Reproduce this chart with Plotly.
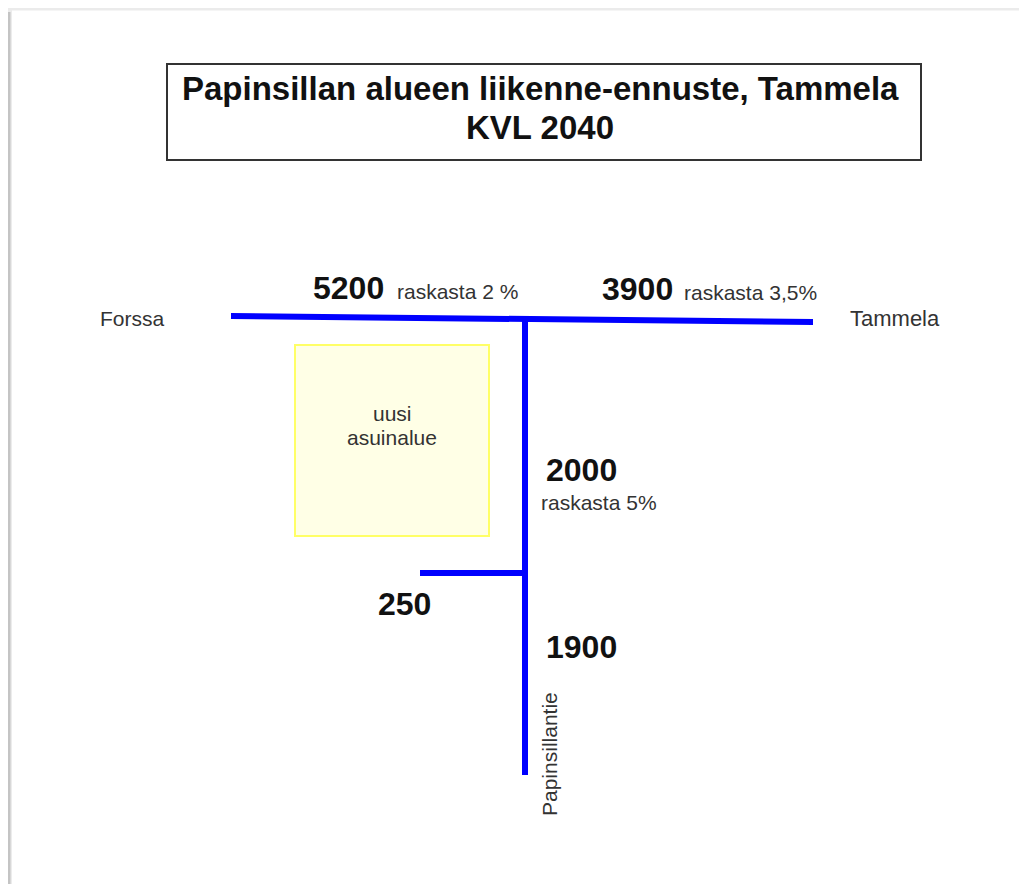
import plotly.graph_objects as go

# ---- data ----
title_lines = ["Papinsillan alueen liikenne-ennuste, Tammela", "KVL 2040"]
place_names = ["Forssa", "Tammela"]
segments = ["Forssa–risteys", "risteys–Tammela", "Papinsillantie pohj.", "sivutie", "Papinsillantie etel."]
kvl_values = [5200, 3900, 2000, 250, 1900]
heavy_share = ["raskasta 2 %", "raskasta 3,5%", "raskasta 5%", "", ""]
road_name = "Papinsillantie"
area_label = ["uusi", "asuinalue"]

# schematic road geometry (diagram units = pixel grid of the sheet)
main_road_x = [231, 525, 813]
main_road_y = [316, 319, 322]
side_road_x = [525, 525]
side_road_y = [319, 775]
branch_x = [420, 525]
branch_y = [573, 573]

W, H = 1027, 884
OFF = 8  # page body margin
FONT = "Liberation Sans, Arial, Helvetica, sans-serif"
BLUE = "#0000ff"

fig = go.Figure()
for xs, ys in [(main_road_x, main_road_y), (side_road_x, side_road_y), (branch_x, branch_y)]:
    fig.add_trace(go.Scatter(x=xs, y=ys, mode="lines",
                             line=dict(color=BLUE, width=6),
                             hoverinfo="skip", showlegend=False))

shapes = [
    # sheet shadow edges
    dict(type="line", x0=8, x1=8, y0=10, y1=H + OFF, line=dict(color="#ececec", width=8)),
    dict(type="line", x0=9, x1=9, y0=12, y1=H + OFF, line=dict(color="#c4c4c4", width=3)),
    dict(type="line", x0=6, x1=W + OFF, y0=9, y1=9, line=dict(color="#ebebeb", width=3)),
    # title box
    dict(type="rect", x0=167, x1=921, y0=64, y1=160, line=dict(color="#333333", width=2),
         fillcolor="rgba(0,0,0,0)"),
    # new residential area
    dict(type="rect", x0=295, x1=489, y0=345, y1=536, line=dict(color="#ffff66", width=2),
         fillcolor="#ffffe6", layer="below"),
]

ann = []
def t(x, y, text, size, bold=False, color="#111111", xanchor="left", angle=0):
    ann.append(dict(x=x, y=y, text=f"<b>{text}</b>" if bold else text, showarrow=False,
                    xanchor=xanchor, yanchor="middle", textangle=angle,
                    font=dict(family=FONT, size=size, color=color)))

t(540, 88, title_lines[0], 33, bold=True, xanchor="center")
t(540, 127, title_lines[1], 33, bold=True, xanchor="center")
t(98, 318, place_names[0], 21, color="#333333")
t(848, 318, place_names[1], 22, color="#333333")
t(311, 288, str(kvl_values[0]), 32, bold=True)
t(395, 291, heavy_share[0], 21, color="#333333")
t(600, 289, str(kvl_values[1]), 32, bold=True)
t(682, 292, heavy_share[1], 21, color="#333333")
t(544, 470, str(kvl_values[2]), 32, bold=True)
t(539, 502, heavy_share[2], 21, color="#333333")
t(376, 604, str(kvl_values[3]), 32, bold=True)
t(544, 647, str(kvl_values[4]), 32, bold=True)
t(549, 754, road_name, 21, color="#333333", xanchor="center", angle=-90)
t(392, 413, area_label[0], 21, color="#333333", xanchor="center")
t(392, 437, area_label[1], 21, color="#333333", xanchor="center")

fig.update_layout(
    width=W, height=H, margin=dict(l=0, r=0, t=0, b=0),
    paper_bgcolor="white", plot_bgcolor="white",
    xaxis=dict(range=[OFF, W + OFF], visible=False, fixedrange=True),
    yaxis=dict(range=[H + OFF, OFF], visible=False, fixedrange=True),
    shapes=shapes, annotations=ann,
)
fig.write_html("out.html")
